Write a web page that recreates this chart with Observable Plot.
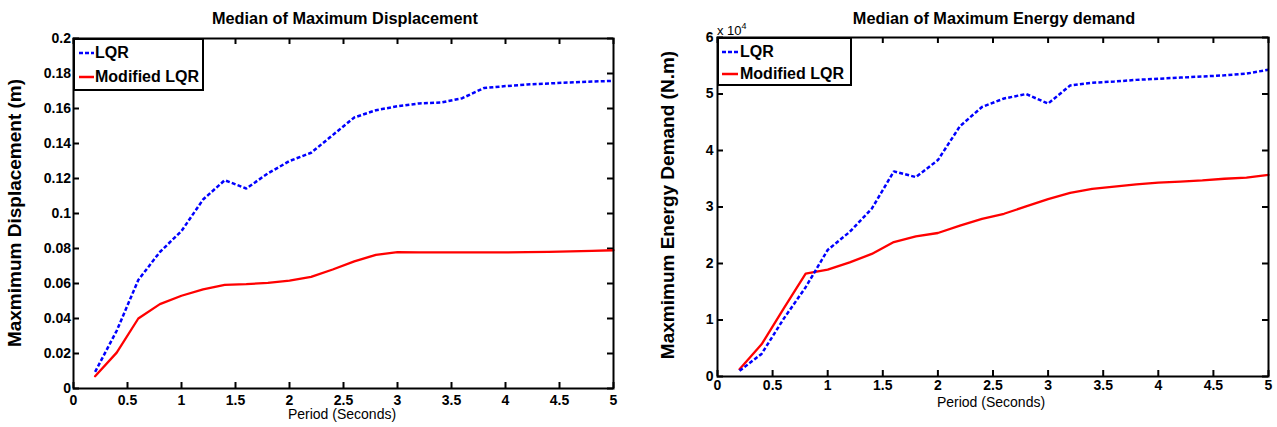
<!DOCTYPE html>
<html><head><meta charset="utf-8">
<script src="https://cdn.jsdelivr.net/npm/d3@7"></script>
<script src="https://cdn.jsdelivr.net/npm/@observablehq/plot@0.6"></script>
<style>
body{margin:0;background:#fff;width:1277px;height:427px;overflow:hidden;position:relative;font-family:"Liberation Sans",Arial,sans-serif;color:#000}
.abs{position:absolute;white-space:nowrap}
.title{font-weight:bold;font-size:16.3px;transform:translate(-50%,-50%)}
.ylab{font-weight:bold;font-size:19px;transform:translate(-50%,-50%) rotate(-90deg)}
.xlab{font-size:14px;transform:translate(-50%,-50%)}
.legend{border:1.5px solid #000;background:#fff;box-sizing:border-box}
.legend .row{position:absolute;left:0;font-weight:bold;font-size:16px;display:flex;align-items:center;transform:translateY(-50%)}
</style></head><body>
<div id="left" class="abs" style="left:0;top:0"></div>
<div id="right" class="abs" style="left:640px;top:0"></div>
<script>
// ---- data ----
const period = [0.2,0.4,0.6,0.8,1.0,1.2,1.4,1.6,1.8,2.0,2.2,2.4,2.6,2.8,3.0,3.2,3.4,3.6,3.8,4.0,4.2,4.4,4.6,4.8,5.0];
const dispLQR = [0.0095,0.033,0.062,0.078,0.090,0.108,0.119,0.1143,0.1229,0.130,0.1347,0.1448,0.1549,0.159,0.1613,0.1629,0.1634,0.1659,0.1717,0.1728,0.1737,0.1743,0.1749,0.1754,0.1758];
const dispMod = [0.007,0.0205,0.040,0.0482,0.053,0.0566,0.0592,0.0596,0.0604,0.0617,0.0638,0.068,0.0726,0.0764,0.0779,0.0778,0.0778,0.0778,0.0778,0.0778,0.0779,0.0781,0.0784,0.0787,0.079];
const energyLQR = [1000,4000,10200,15800,22400,25600,29700,36300,35300,38300,44300,47700,49200,50000,48300,51500,52000,52200,52500,52700,52900,53100,53300,53600,54300];
const energyMod = [1300,5700,12000,18200,18900,20200,21700,23800,24800,25400,26700,27900,28800,30100,31400,32500,33200,33600,34000,34300,34500,34700,35000,35200,35700];
const seriesNames = ["LQR","Modified LQR"];
const xTicks = [0,0.5,1,1.5,2,2.5,3,3.5,4,4.5,5];
const dispTicks = [0,0.02,0.04,0.06,0.08,0.1,0.12,0.14,0.16,0.18,0.2];
const energyTicks = [0,10000,20000,30000,40000,50000,60000];
const titles = ["Median of Maximum Displacement","Median of Maximum Energy demand"];
const yLabels = ["Maxmimum Displacement (m)","Maxmimum Energy Demand (N.m)"];
const xLabel = "Period (Seconds)";

const fmt = d => String(+d.toFixed(2));
const blue = "#0000ff", red = "#ff0000";
const font = {fontFamily:'"Liberation Sans", Arial, sans-serif', fontSize:"14px", fontWeight:"bold", color:"#000", background:"transparent", overflow:"visible"};

function chart({width,height,mt,mr,mb,ml,yDomain,yTicks,yFmt,lqr,mod,xPad,yPad}){
  const T = 6; // inward tick length
  const ph = height - mt - mb, pw = width - ml - mr;
  const tk = {stroke:"#000", strokeWidth:2, strokeLinecap:"butt"};
  return Plot.plot({
    width, height, marginTop:mt, marginRight:mr, marginBottom:mb, marginLeft:ml,
    style: font,
    x:{domain:[0,5], label:null},
    y:{domain:yDomain, label:null},
    marks:[
      // inward tick marks on all four sides
      Plot.ruleX(xTicks,{x:d=>d, insetTop:ph - T, ...tk}),
      Plot.ruleX(xTicks,{x:d=>d, insetBottom:ph - T, ...tk}),
      Plot.ruleY(yTicks,{y:d=>d, insetRight:pw - T, ...tk}),
      Plot.ruleY(yTicks,{y:d=>d, insetLeft:pw - T, ...tk}),
      // tick labels
      Plot.axisX(xTicks,{anchor:"bottom", tickSize:0, tickPadding:xPad, tickFormat:fmt, label:null}),
      Plot.axisY(yTicks,{anchor:"left", tickSize:0, tickPadding:yPad, tickFormat:yFmt, label:null}),
      Plot.line(period,{x:period, y:mod, stroke:red, strokeWidth:2.3}),
      Plot.line(period,{x:period, y:lqr, stroke:blue, strokeWidth:2.5, strokeDasharray:"4,2.2", strokeLinecap:"butt", strokeLinejoin:"miter"}),
      Plot.frame({stroke:"#000", strokeWidth:2})
    ]
  });
}

document.getElementById("left").appendChild(chart({
  width:640, height:427, mt:38, mr:27, mb:39, ml:73,
  yDomain:[0,0.2], yTicks:dispTicks, yFmt:fmt, lqr:dispLQR, mod:dispMod, xPad:7, yPad:2.5
}));
document.getElementById("right").appendChild(chart({
  width:637, height:427, mt:37, mr:9, mb:51, ml:77,
  yDomain:[0,60000], yTicks:energyTicks, yFmt:d=>String(d/10000), lqr:energyLQR, mod:energyMod, xPad:4, yPad:4
}));

function addText(cls, text, x, y, extra){
  const d = document.createElement("div");
  d.className = "abs " + cls;
  d.style.left = x + "px"; d.style.top = y + "px";
  d.textContent = text;
  if (extra) Object.assign(d.style, extra);
  document.body.appendChild(d);
  return d;
}
addText("title", titles[0], 345, 18);
addText("title", titles[1], 994, 18);
addText("ylab", yLabels[0], 15, 213);
addText("ylab", yLabels[1], 668, 205);
addText("xlab", xLabel, 342, 414);
addText("xlab", xLabel, 991, 402);

// exponent label
const ex = document.createElement("div");
ex.className = "abs";
ex.style.left = "717px"; ex.style.top = "21px"; ex.style.fontSize = "13px";
ex.innerHTML = "x 10<sup style='font-size:9px;vertical-align:6px'>4</sup>";
document.body.appendChild(ex);

function legend(left, top, w, h, rows, lineX0, lineX1, textX){
  const box = document.createElement("div");
  box.className = "abs legend";
  Object.assign(box.style, {left:left+"px", top:top+"px", width:w+"px", height:h+"px", borderWidth:"2px"});
  const colors = [blue, red], dashes = ["4,2", null];
  rows.forEach((ry, i) => {
    const row = document.createElement("div");
    row.className = "row";
    row.style.top = (ry - top - 2) + "px";
    row.style.left = (lineX0 - left - 2) + "px";
    const ns = "http://www.w3.org/2000/svg";
    const svg = document.createElementNS(ns, "svg");
    svg.setAttribute("width", lineX1 - lineX0); svg.setAttribute("height", 6);
    const ln = document.createElementNS(ns, "line");
    ln.setAttribute("x1", 0); ln.setAttribute("x2", lineX1 - lineX0);
    ln.setAttribute("y1", 3); ln.setAttribute("y2", 3);
    ln.setAttribute("stroke", colors[i]); ln.setAttribute("stroke-width", 2.5);
    if (dashes[i]) ln.setAttribute("stroke-dasharray", dashes[i]);
    svg.appendChild(ln);
    row.appendChild(svg);
    const t = document.createElement("span");
    t.textContent = seriesNames[i];
    t.style.marginLeft = (textX - lineX1) + "px";
    row.appendChild(t);
    box.appendChild(row);
  });
  document.body.appendChild(box);
}
legend(73, 38, 131, 53, [53, 77], 79, 94, 95);
legend(717, 37, 135, 49, [52, 74], 722, 738, 740);
</script>
</body></html>
